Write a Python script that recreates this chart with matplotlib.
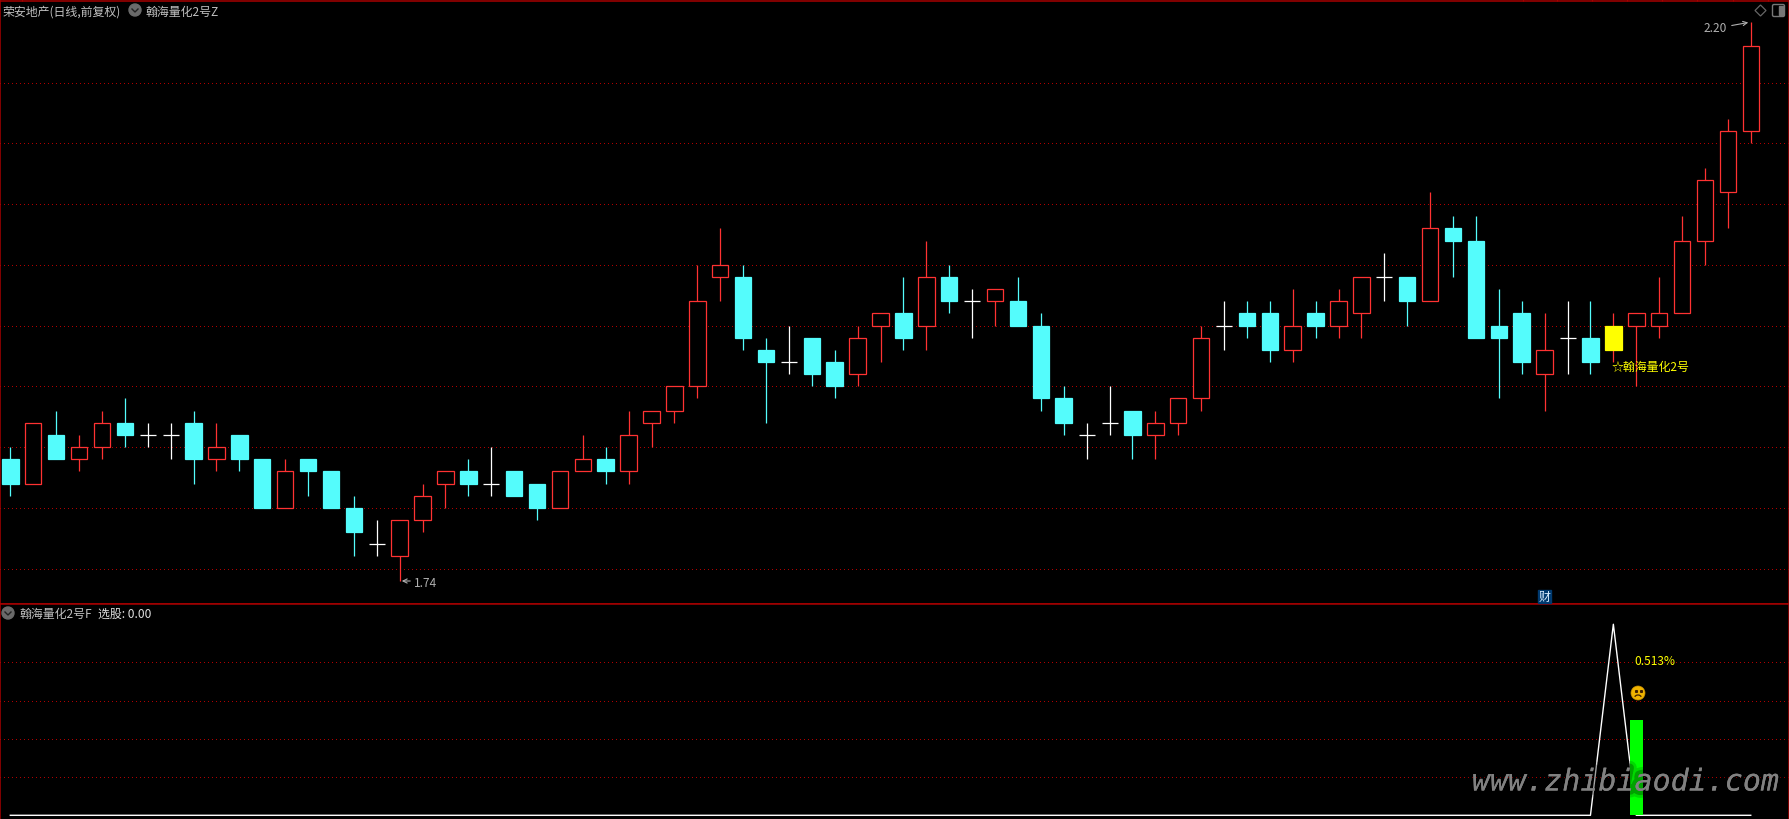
import matplotlib
matplotlib.use("Agg")
import matplotlib.pyplot as plt
from matplotlib.patches import Circle, Arc, FancyBboxPatch, Polygon, Rectangle
import matplotlib.patheffects as pe

plt.rcParams['font.family'] = ['Noto Sans CJK SC', 'DejaVu Sans']

# prices, in yuan
opens = [1.84, 1.82, 1.86, 1.84, 1.85, 1.87, 1.86, 1.86, 1.87, 1.84, 1.86, 1.84, 1.80, 1.84, 1.83, 1.80, 1.77,
         1.76, 1.79, 1.82, 1.83, 1.82, 1.83, 1.82, 1.80, 1.83, 1.84, 1.83, 1.87, 1.88, 1.90, 1.99, 1.99, 1.93,
         1.92, 1.94, 1.92, 1.91, 1.95, 1.96, 1.95, 1.99, 1.97, 1.97, 1.97, 1.95, 1.89, 1.86, 1.87, 1.88, 1.86,
         1.87, 1.89, 1.95, 1.96, 1.96, 1.93, 1.96, 1.95, 1.96, 1.99, 1.99, 1.97, 2.03, 2.02, 1.95, 1.96, 1.91,
         1.94, 1.94, 1.95, 1.95, 1.95, 1.96, 2.02, 2.06, 2.11]
highs = [1.85, 1.87, 1.88, 1.86, 1.88, 1.89, 1.87, 1.87, 1.88, 1.87, 1.86, 1.84, 1.84, 1.84, 1.83, 1.81, 1.79,
         1.79, 1.82, 1.83, 1.84, 1.85, 1.83, 1.82, 1.83, 1.86, 1.85, 1.88, 1.88, 1.90, 2.00, 2.03, 2.00, 1.94,
         1.95, 1.94, 1.93, 1.95, 1.96, 1.99, 2.02, 2.00, 1.98, 1.98, 1.99, 1.96, 1.90, 1.87, 1.90, 1.88, 1.88,
         1.89, 1.95, 1.97, 1.97, 1.97, 1.98, 1.97, 1.98, 1.99, 2.01, 1.99, 2.06, 2.04, 2.04, 1.98, 1.97, 1.96,
         1.97, 1.97, 1.96, 1.96, 1.99, 2.04, 2.08, 2.12, 2.20]
lows = [1.81, 1.82, 1.84, 1.83, 1.84, 1.85, 1.85, 1.84, 1.82, 1.83, 1.83, 1.80, 1.80, 1.81, 1.80, 1.76, 1.76,
        1.74, 1.78, 1.80, 1.81, 1.81, 1.81, 1.79, 1.80, 1.83, 1.82, 1.82, 1.85, 1.87, 1.89, 1.97, 1.93, 1.87,
        1.91, 1.90, 1.89, 1.90, 1.92, 1.93, 1.93, 1.96, 1.94, 1.95, 1.95, 1.88, 1.86, 1.84, 1.86, 1.84, 1.84,
        1.86, 1.88, 1.93, 1.94, 1.92, 1.92, 1.94, 1.94, 1.94, 1.97, 1.95, 1.97, 1.99, 1.94, 1.89, 1.91, 1.88,
        1.91, 1.91, 1.92, 1.90, 1.94, 1.96, 2.00, 2.03, 2.10]
closes = [1.82, 1.87, 1.84, 1.85, 1.87, 1.86, 1.86, 1.86, 1.84, 1.85, 1.84, 1.80, 1.83, 1.83, 1.80, 1.78, 1.77,
          1.79, 1.81, 1.83, 1.82, 1.82, 1.81, 1.80, 1.83, 1.84, 1.83, 1.86, 1.88, 1.90, 1.97, 2.00, 1.94, 1.92,
          1.92, 1.91, 1.90, 1.94, 1.96, 1.94, 1.99, 1.97, 1.97, 1.98, 1.95, 1.89, 1.87, 1.86, 1.87, 1.86, 1.87,
          1.89, 1.94, 1.95, 1.95, 1.93, 1.95, 1.95, 1.97, 1.99, 1.99, 1.97, 2.03, 2.02, 1.94, 1.94, 1.92, 1.93,
          1.94, 1.92, 1.93, 1.96, 1.96, 2.02, 2.07, 2.11, 2.18]
signal_day = 70

price_grid = [1.75, 1.80, 1.85, 1.90, 1.95, 2.00, 2.05, 2.10, 2.15]
sub_grid = [0.2, 0.4, 0.6, 0.8]
select_line = [0] * 70 + [1] + [0] * 6
select_bar_day = 71
select_bar_value = 0.5
top_ticks = [22, 1523, 1557, 1592, 1627, 1662, 1697, 1733, 1768]

BORDER = '#a80000'
GRID = '#b00000'
RED = '#ff3232'
CYAN = '#54fcfc'
GRAY = '#c0c0c0'

W, H = 1789, 820
SPLIT = 605
XLIM = (-0.45, 77.67)

fig = plt.figure(figsize=(W / 100, H / 100), dpi=100, facecolor='black')
ax1 = fig.add_axes([0, 1 - SPLIT / H, 1, SPLIT / H], facecolor='black')
ax2 = fig.add_axes([0, 0, 1, 1 - SPLIT / H], facecolor='black')

for ax in (ax1, ax2):
    ax.set_xlim(*XLIM)
    ax.set_xticks([])
    ax.set_yticks([])
    for s in ax.spines.values():
        s.set_color(BORDER)
        s.set_linewidth(1.1)
ax1.set_ylim(1.7208, 2.2189)
ax2.set_ylim(-0.0194, 1.106)
ax1.spines['top'].set_visible(False)
ax2.spines['bottom'].set_visible(False)

for y in price_grid:
    ax1.axhline(y, color=GRID, lw=0.72, ls=(0, (1, 3)), antialiased=False, zorder=1)
for y in sub_grid:
    ax2.axhline(y, color=GRID, lw=0.72, ls=(0, (1, 3)), antialiased=False, zorder=1)

# ---- candles ----
body_w = 16.5 / 22.9
doji_w = 16 / 22.9
for i, (o, h, l, c) in enumerate(zip(opens, highs, lows, closes)):
    top, bot = max(o, c), min(o, c)
    if o == c:
        ax1.vlines(i, l, h, color='white', lw=0.9, zorder=3)
        ax1.hlines(o, i - doji_w / 2, i + doji_w / 2, color='white', lw=0.9, zorder=3)
        continue
    if i == signal_day:
        col, face = '#ffff00', '#ffff00'
        wick = RED
    elif c > o:
        col, face = RED, 'black'
        wick = RED
    else:
        col, face = CYAN, CYAN
        wick = CYAN
    ax1.vlines(i, bot, top, color=wick, lw=0.9, zorder=2)
    ax1.vlines(i, l, bot, color=wick, lw=0.9, zorder=3)
    ax1.vlines(i, top, h, color=wick, lw=0.9, zorder=3)
    ax1.bar(i, top - bot, bottom=bot, width=body_w, facecolor=face, edgecolor=col, lw=0.9, zorder=4)

# ---- lower panel ----
ax2.plot(range(len(select_line)), select_line, color='white', lw=1.0, zorder=3)
ax2.bar(select_bar_day, select_bar_value, width=13 / 22.9, color='#00ff00', zorder=4)

# ---- labels and icons, in picture pixels ----
ov = fig.add_axes([0, 0, 1, 1], facecolor='none')
ov.set_xlim(0, W)
ov.set_ylim(H, 0)
ov.axis('off')

ov.hlines(1.7, 0, W, color=BORDER, lw=1.1, zorder=9)
ov.vlines(top_ticks, 0, 2, color=BORDER, lw=0.8, zorder=9)


def label(x, y, s, color=GRAY, size=8.6, ha='left'):
    ov.text(x, y, s, color=color, fontsize=size, ha=ha, va='center', zorder=10)


def chevron_icon(x, y):
    ov.add_patch(Circle((x, y), 6, color='#6a6a6a', zorder=9))
    ov.plot([x - 3, x, x + 3], [y - 1, y + 2, y - 1], color='#222222', lw=1, zorder=10)


label(3, 12, '荣安地产(日线,前复权)')
chevron_icon(135, 11)
label(145, 12, '翰海量化2号Z')
chevron_icon(8, 614)
label(19, 614, '翰海量化2号F')
label(98, 614, '选股: 0.00', color='#e0e0e0')

label(414, 584, '1.74', color='#b0b0b0')
ov.annotate('', xy=(399, 582), xytext=(413, 582),
            arrowprops=dict(arrowstyle='->,head_width=0.15,head_length=0.3', color='#b0b0b0', lw=0.8))
label(1704, 28.5, '2.20', color='#b0b0b0')
ov.annotate('', xy=(1751, 23), xytext=(1729, 27),
            arrowprops=dict(arrowstyle='->,head_width=0.15,head_length=0.3', color='#b0b0b0', lw=0.8))

label(1612, 367, '☆翰海量化2号', color='#ffff00')
label(1634, 662, '0.513%', color='#ffff00')

# sad face
ov.add_patch(Circle((1638, 694), 7, facecolor='#f0b400', edgecolor='#c89000', lw=0.5, zorder=9))
ov.plot([1635.5, 1640.5], [692, 692], ls='none', marker='s', ms=1.2, color='#402000', zorder=10)
ov.add_patch(Arc((1638, 699), 7, 6, theta1=200, theta2=340, color='#402000', lw=0.9, zorder=10))

# 财 badge
ov.add_patch(Rectangle((1538, 591), 13, 13, color='#003a70', zorder=9))
ov.text(1544.5, 597.5, '财', color='#d8ecff', fontsize=8.6, ha='center', va='center', zorder=10)

# top right tool icons
ov.add_patch(Polygon([(1760.5, 6), (1766, 11.5), (1760.5, 17), (1755, 11.5)], fill=False,
                     edgecolor='#666666', lw=0.9, zorder=9))
ov.add_patch(FancyBboxPatch((1774, 7), 9, 9, boxstyle='round,pad=1.5', fill=False,
                            edgecolor='#777777', lw=1.0, zorder=9))
ov.add_patch(Rectangle((1779, 7), 4, 9, color='#777777', zorder=9))

# watermark
ov.text(1626, 783, 'www.zhibiaodi.com', family='DejaVu Sans Mono', style='oblique',
        fontsize=21.6, color='#848484', alpha=0.8, ha='center', va='center', zorder=12,
        path_effects=[pe.withStroke(linewidth=10, foreground='black', alpha=0.15),
                      pe.withStroke(linewidth=6, foreground='black', alpha=0.25),
                      pe.Normal()])

fig.savefig('out.png', dpi=100, facecolor='black')
